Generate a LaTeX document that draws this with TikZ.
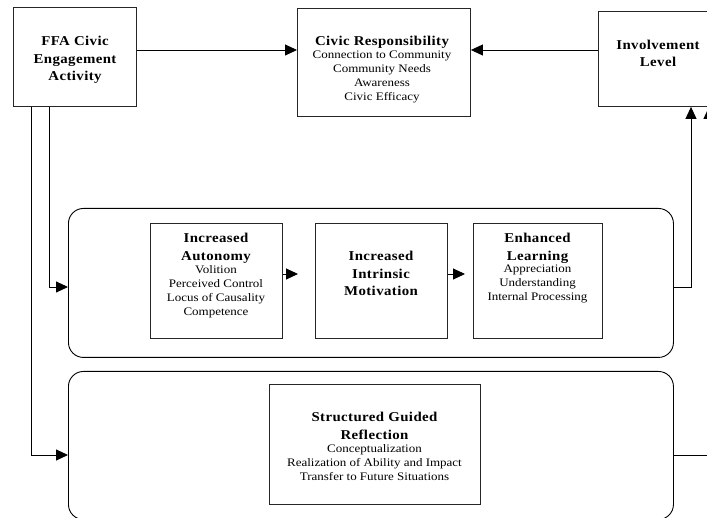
\documentclass[tikz,border=0pt]{standalone}
\usepackage{fontspec}
\setmainfont{Liberation Serif}
\newfontfamily\hfam[FakeStretch=1.1,LetterSpace=3]{Liberation Serif}
\newfontfamily\bfam[FakeStretch=1.13]{Liberation Serif}
\usetikzlibrary{arrows.meta}
\tikzset{
  box/.style={draw=black!85, line width=0.9pt, anchor=north west, inner sep=0pt},
  rbox/.style={box, draw=black, rounded corners=15pt},
  ttl/.style={align=center, inner sep=0pt, font={\hfam\bfseries\fontsize{13.5pt}{17.5pt}\selectfont}},
  bdy/.style={align=center, inner sep=0pt, font={\bfam\fontsize{11.5pt}{14pt}\selectfont}},
  conn/.style={line width=0.9pt, -{Triangle[length=12pt,width=11pt]}},
}
\begin{document}
\begin{tikzpicture}[x=1pt,y=-1pt]
\useasboundingbox (0,0) rectangle (707,518);
\fill[white] (0,0) rectangle (707,518);
\clip (0,0) rectangle (707,518);
% boxes
\node[box, minimum width=123pt, minimum height=99pt] (ffa) at (13,7) {};
\node[box, minimum width=173pt, minimum height=108pt] (civ) at (297,8) {};
\node[box, minimum width=122pt, minimum height=95pt] (inv) at (598,11) {};
\node[rbox, minimum width=605pt, minimum height=149pt] (mid) at (68,208) {};
\node[rbox, minimum width=605pt, minimum height=148pt] (bot) at (68,371) {};
\node[box, minimum width=132pt, minimum height=115pt] (aut) at (150,223) {};
\node[box, minimum width=132pt, minimum height=115pt] (imo) at (315,223) {};
\node[box, minimum width=129pt, minimum height=115pt] (enl) at (473,223) {};
\node[box, minimum width=211pt, minimum height=120pt] (sgr) at (269,384) {};
% texts
\node[ttl] (ffat) at (75,60) {FFA Civic\\Engagement\\Activity};
\node[ttl] (civt) at (382,42) {Civic Responsibility};
\node[bdy] (civb) at (382,77) {Connection to Community\\Community Needs\\Awareness\\Civic Efficacy};
\node[ttl] (invt) at (658,53.5) {Involvement\\Level};
\node[ttl] (autt) at (216,248.5) {Increased\\Autonomy};
\node[bdy] (autb) at (216,291.5) {Volition\\Perceived Control\\Locus of Causality\\Competence};
\node[ttl] (imot) at (381,273.5) {Increased\\Intrinsic\\Motivation};
\node[ttl] (enlt) at (537.5,248.5) {Enhanced\\Learning};
\node[bdy] (enlb) at (537.5,284) {Appreciation\\Understanding\\Internal Processing};
\node[ttl] (sgrt) at (374.5,426) {Structured Guided\\Reflection};
\node[bdy] (sgrb) at (374.5,463) {Conceptualization\\Realization of Ability and Impact\\Transfer to Future Situations};
% connectors
\draw[conn] (ffa.east |- 0,50) -- (civ.west |- 0,50);
\draw[conn] (inv.west |- 0,50) -- (civ.east |- 0,50);
\draw[conn] (ffa.south -| 49,0) -- (49,287) -- (mid.west |- 0,287);
\draw[conn] (ffa.south -| 31,0) -- (31,455) -- (bot.west |- 0,455);
\draw[conn] (mid.east |- 0,287) -- (691,287) -- (inv.south -| 691,0);
\draw[conn] (bot.east |- 0,455) -- (709,455) -- (inv.south -| 709,0);
\draw[conn, shorten >=17pt] (aut.east |- 0,274) -- (imo.west |- 0,274);
\draw[conn, shorten >=8pt] (imo.east |- 0,274) -- (enl.west |- 0,274);
\end{tikzpicture}
\end{document}
